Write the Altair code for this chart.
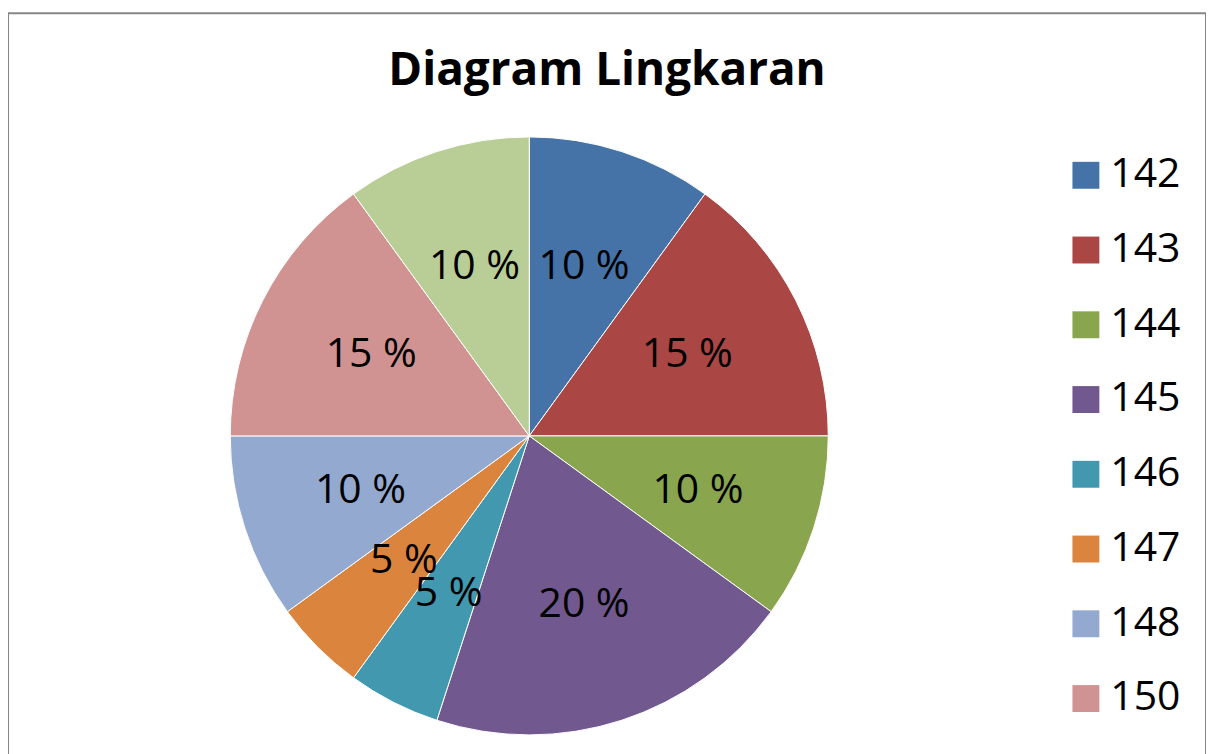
import altair as alt
import pandas as pd

categories = ["142", "143", "144", "145", "146", "147", "148", "150", "151"]
percents = [10, 15, 10, 20, 5, 5, 10, 15, 10]
colors = ["#4572A7", "#AA4643", "#89A54E", "#71588F", "#4198AF",
          "#DB843D", "#93A9CF", "#D19392", "#B9CD96"]

df = pd.DataFrame({
    "kategori": categories,
    "persen": percents,
    "urut": list(range(len(categories))),
    "label": [f"{p} %" for p in percents],
})

cx, cy = 523, 424

base = alt.Chart(df).encode(
    theta=alt.Theta("persen:Q", stack=True),
    order=alt.Order("urut:Q", sort="ascending"),
    x=alt.value(cx),
    y=alt.value(cy),
)

arcs = base.mark_arc(outerRadius=300, stroke="white", strokeWidth=1).encode(
    color=alt.Color(
        "kategori:N",
        scale=alt.Scale(domain=categories, range=colors),
        sort=categories,
        legend=alt.Legend(
            title=None,
            orient="none",
            legendX=1061,
            legendY=142,
            padding=0,
            symbolType="square",
            symbolSize=729,
            symbolStrokeWidth=0,
            labelFontSize=41,
            labelFont="Open Sans",
            labelColor="black",
            labelOffset=4,
            rowPadding=33,
            labelLimit=300,
        ),
    )
)

texts = base.mark_text(radius=178, fontSize=41, font="Open Sans", color="black").encode(
    text="label:N"
)

chart = alt.layer(arcs, texts).properties(
    width=1202,
    height=800,
    background="white",
    padding={"left": 0, "top": 4, "right": 0, "bottom": 0},
    autosize=alt.AutoSizeParams(type="none"),
    title=alt.Title(
        "Diagram Lingkaran",
        font="Open Sans",
        fontSize=46,
        fontWeight="bold",
        color="black",
        anchor="middle",
        baseline="alphabetic",
        offset=0,
        dy=118,
    ),
).configure_view(
    stroke="#868686",
    strokeWidth=2,
    strokeOpacity=1,
)

chart.save("out.html", embed_options={"renderer": "svg", "actions": False})
